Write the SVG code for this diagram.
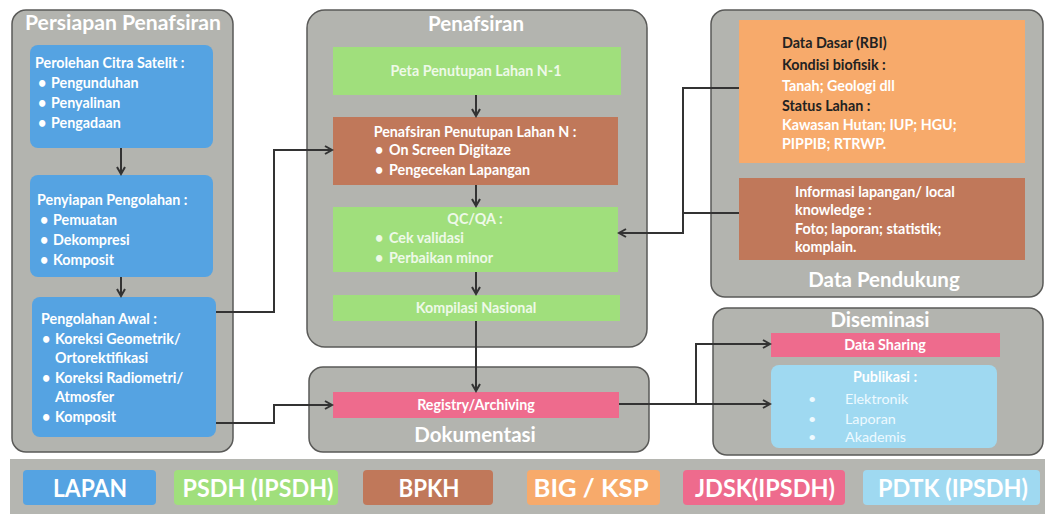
<svg xmlns="http://www.w3.org/2000/svg" width="1045" height="514" viewBox="0 0 1045 514">
<defs>
<marker id="ah" markerWidth="10" markerHeight="10" refX="8" refY="5" orient="auto" markerUnits="userSpaceOnUse">
<path d="M1,1 L8,5 L1,9" fill="none" stroke="#333" stroke-width="2"/>
</marker>
<style>
.panel{fill:#b3b4af;stroke:#5a5a58;stroke-width:1.5}
.title{font-family:Lato,"Open Sans","Liberation Sans",sans-serif;font-weight:bold;fill:#fff;font-size:20.5px;text-anchor:middle}
.t{font-family:Lato,"Open Sans","Liberation Sans",sans-serif;font-weight:bold;fill:#fff;font-size:14.3px}
.tc{text-anchor:middle}
.dk{fill:#222}
.lt{fill:#eef9e8}
.reg{font-weight:normal;fill:#eefaff}
.blue{fill:#55a3e2}
.green{fill:#a0df7c}
.brown{fill:#c0785a}
.orange{fill:#f7aa6b}
.pink{fill:#ee6b8d}
.lblue{fill:#9fd9f1}
.edge{fill:none;stroke:#333;stroke-width:2}
.leg{font-family:"Liberation Sans Narrow",Lato,"Liberation Sans",sans-serif;font-weight:bold;fill:#fff;font-size:25px;text-anchor:middle}
</style>
</defs>
<rect width="1045" height="514" fill="#fff"/>

<g id="persiapan">
<rect class="panel" x="12" y="10" width="221" height="442" rx="14"/>
<text class="title" x="123" y="30" textLength="196" lengthAdjust="spacingAndGlyphs">Persiapan Penafsiran</text>
</g>
<g id="perolehan">
<rect class="blue" x="30" y="45" width="183" height="103" rx="8"/>
<text class="t" x="35" y="68">Perolehan Citra Satelit :</text>
<text class="t" x="38" y="88">•</text><text class="t" x="51" y="88">Pengunduhan</text>
<text class="t" x="38" y="108">•</text><text class="t" x="51" y="108">Penyalinan</text>
<text class="t" x="38" y="128">•</text><text class="t" x="51" y="128">Pengadaan</text>
</g>
<g id="penyiapan">
<rect class="blue" x="30" y="175" width="183" height="102" rx="8"/>
<text class="t" x="37" y="205">Penyiapan Pengolahan :</text>
<text class="t" x="40" y="225">•</text><text class="t" x="53" y="225">Pemuatan</text>
<text class="t" x="40" y="245">•</text><text class="t" x="53" y="245">Dekompresi</text>
<text class="t" x="40" y="265">•</text><text class="t" x="53" y="265">Komposit</text>
</g>
<g id="pengolahan">
<rect class="blue" x="32" y="297" width="184" height="140" rx="8"/>
<text class="t" x="41" y="324">Pengolahan Awal :</text>
<text class="t" x="42" y="344">•</text><text class="t" x="55" y="344">Koreksi Geometrik/</text>
<text class="t" x="55" y="363">Ortorektifikasi</text>
<text class="t" x="42" y="383">•</text><text class="t" x="55" y="383">Koreksi Radiometri/</text>
<text class="t" x="55" y="402">Atmosfer</text>
<text class="t" x="42" y="422">•</text><text class="t" x="55" y="422">Komposit</text>
</g>

<g id="penafsiran">
<rect class="panel" x="307" y="10" width="340" height="337" rx="18"/>
<text class="title" x="476" y="31">Penafsiran</text>
</g>
<g id="peta">
<rect class="green" x="333" y="47" width="288" height="48"/>
<text class="t tc lt" x="476" y="76">Peta Penutupan Lahan N-1</text>
</g>
<g id="penafsiran-n">
<rect class="brown" x="333" y="117" width="285" height="68"/>
<text class="t tc" x="475" y="137">Penafsiran Penutupan Lahan N :</text>
<text class="t" x="375" y="155">•</text><text class="t" x="389" y="155">On Screen Digitaze</text>
<text class="t" x="375" y="175">•</text><text class="t" x="389" y="175">Pengecekan Lapangan</text>
</g>
<g id="qcqa">
<rect class="green" x="333" y="207" width="285" height="65"/>
<text class="t tc lt" x="475" y="224">QC/QA :</text>
<text class="t lt" x="375" y="243">•</text><text class="t lt" x="389" y="243">Cek validasi</text>
<text class="t lt" x="375" y="263">•</text><text class="t lt" x="389" y="263">Perbaikan minor</text>
</g>
<g id="kompilasi">
<rect class="green" x="333" y="295" width="287" height="26"/>
<text class="t tc lt" x="476" y="313">Kompilasi Nasional</text>
</g>

<g id="dokumentasi">
<rect class="panel" x="309" y="367" width="340" height="85" rx="14"/>
<text class="title" x="475" y="442">Dokumentasi</text>
</g>
<g id="registry">
<rect class="pink" x="333" y="392" width="286" height="26"/>
<text class="t tc" x="476" y="410">Registry/Archiving</text>
</g>

<g id="data-pendukung">
<rect class="panel" x="711" y="10" width="332" height="287" rx="14"/>
<text class="title" x="884" y="287">Data Pendukung</text>
</g>
<g id="data-dasar">
<rect class="orange" x="739" y="20" width="286" height="143"/>
<text class="t dk" x="782" y="48">Data Dasar (RBI)</text>
<text class="t dk" x="782" y="70">Kondisi biofisik :</text>
<text class="t" x="782" y="91">Tanah; Geologi dll</text>
<text class="t dk" x="782" y="111">Status Lahan :</text>
<text class="t" x="782" y="130">Kawasan Hutan; IUP; HGU;</text>
<text class="t" x="782" y="149">PIPPIB; RTRWP.</text>
</g>
<g id="informasi">
<rect class="brown" x="739" y="178" width="286" height="82"/>
<text class="t" x="795" y="197">Informasi lapangan/ local</text>
<text class="t" x="795" y="215">knowledge :</text>
<text class="t" x="795" y="234">Foto; laporan; statistik;</text>
<text class="t" x="795" y="252">komplain.</text>
</g>

<g id="diseminasi">
<rect class="panel" x="713" y="308" width="330" height="147" rx="14"/>
<text class="title" x="880" y="327">Diseminasi</text>
</g>
<g id="data-sharing">
<rect class="pink" x="771" y="333" width="229" height="24"/>
<text class="t tc" x="885" y="350">Data Sharing</text>
</g>
<g id="publikasi">
<rect class="lblue" x="771" y="365" width="226" height="83" rx="8"/>
<text class="t tc" x="885" y="382">Publikasi :</text>
<text class="t reg" x="808" y="404">•</text><text class="t reg" x="845" y="404">Elektronik</text>
<text class="t reg" x="808" y="424">•</text><text class="t reg" x="845" y="424">Laporan</text>
<text class="t reg" x="808" y="442">•</text><text class="t reg" x="845" y="442">Akademis</text>
</g>

<g id="connectors">
<path class="edge" d="M121,148 V174" marker-end="url(#ah)"/>
<path class="edge" d="M121,277 V296" marker-end="url(#ah)"/>
<path class="edge" d="M476,95 V116" marker-end="url(#ah)"/>
<path class="edge" d="M476,185 V206" marker-end="url(#ah)"/>
<path class="edge" d="M476,272 V294" marker-end="url(#ah)"/>
<path class="edge" d="M476,321 V391" marker-end="url(#ah)"/>
<path class="edge" d="M216,312 H274 V150 H332" marker-end="url(#ah)"/>
<path class="edge" d="M216,423 H274 V405 H332" marker-end="url(#ah)"/>
<path class="edge" d="M739,88 H683 V233 H619" marker-end="url(#ah)"/>
<path class="edge" d="M739,213 H683"/>
<path class="edge" d="M619,404 H696 V344 H770" marker-end="url(#ah)"/>
<path class="edge" d="M696,404 H770" marker-end="url(#ah)"/>
</g>

<g id="legend">
<rect x="10" y="459" width="1035" height="55" fill="#b5b6b1"/>
<rect class="blue" x="23" y="470" width="133" height="35" rx="4"/>
<text class="leg" x="90" y="497" textLength="74" lengthAdjust="spacingAndGlyphs">LAPAN</text>
<rect class="green" x="174" y="470" width="164" height="35" rx="4"/>
<text class="leg" x="258" y="497" textLength="151" lengthAdjust="spacingAndGlyphs">PSDH (IPSDH)</text>
<rect class="brown" x="363" y="470" width="130" height="35" rx="4"/>
<text class="leg" x="429" y="497" textLength="61" lengthAdjust="spacingAndGlyphs">BPKH</text>
<rect class="orange" x="527" y="470" width="133" height="35" rx="4"/>
<text class="leg" x="591" y="497" textLength="115" lengthAdjust="spacingAndGlyphs">BIG / KSP</text>
<rect class="pink" x="683" y="470" width="162" height="35" rx="4"/>
<text class="leg" x="765" y="497" textLength="140" lengthAdjust="spacingAndGlyphs">JDSK(IPSDH)</text>
<rect class="lblue" x="863" y="470" width="177" height="35" rx="4"/>
<text class="leg" x="953" y="497" textLength="150" lengthAdjust="spacingAndGlyphs">PDTK (IPSDH)</text>
</g>
</svg>
